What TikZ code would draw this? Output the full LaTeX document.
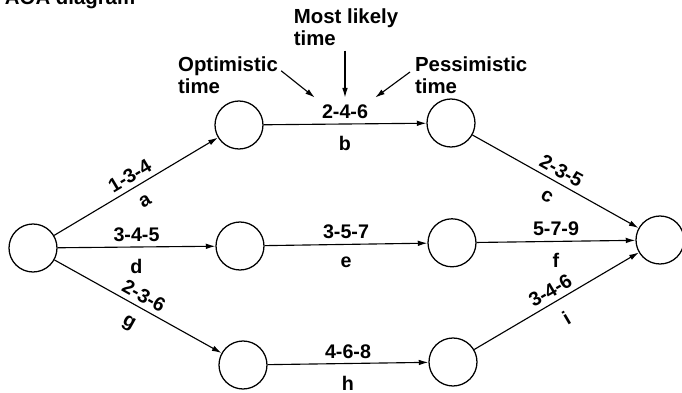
\documentclass[tikz,border=0pt]{standalone}
\usepackage{fontspec}
\setmainfont{Liberation Sans}
\usetikzlibrary{arrows.meta}

\tikzset{
    event/.style={circle, draw, line width=0.9pt, minimum size=1.2cm, inner sep=0pt},
    act/.style={line width=0.8pt, -{Latex[length=2.4mm, width=1.4mm]}},
    est/.style={font=\fontsize{14}{15}\selectfont\bfseries},
    note/.style={font=\fontsize{14.5}{16}\selectfont\bfseries, align=left}
}

\begin{document}
\begin{tikzpicture}
    \clip (0, 0) rectangle (17.05, 9.8);

    \node[note, anchor=base west] (title) at (0, 9.7) {AOA diagram};

    \node[event] (s) at (0.825, 3.6) {};
    \node[event] (t1) at (5.975, 6.675) {};
    \node[event] (t2) at (11.275, 6.725) {};
    \node[event] (m1) at (6.0, 3.65) {};
    \node[event] (m2) at (11.3, 3.73) {};
    \node[event] (b1) at (6.075, 0.675) {};
    \node[event] (b2) at (11.325, 0.75) {};
    \node[event] (e) at (16.5, 3.8) {};

    \draw[act] (s) -- node[est, sloped, above] {1-3-4} node[est, sloped, below=5pt] {a} (t1);
    \draw[act] (t1) -- node[est, above] (l246) {2-4-6} node[est, below=5pt] {b} (t2);
    \draw[act] (t2) -- node[est, sloped, above] {2-3-5} node[est, sloped, below=5pt] {c} (e);
    \draw[act] (s) -- node[est, above] {3-4-5} node[est, below=5pt] {d} (m1);
    \draw[act] (m1) -- node[est, above] {3-5-7} node[est, below=5pt] {e} (m2);
    \draw[act] (m2) -- node[est, above] {5-7-9} node[est, below=5pt] {f} (e);
    \draw[act] (s) -- node[est, sloped, above] {2-3-6} node[est, sloped, below=5pt] {g} (b1);
    \draw[act] (b1) -- node[est, above] {4-6-8} node[est, below=5pt] {h} (b2);
    \draw[act] (b2) -- node[est, sloped, above] {3-4-6} node[est, sloped, below=5pt] {i} (e);

    % three estimates
    \node[note] (opt) at (5.7, 7.925) {Optimistic\\time};
    \node[note] (most) at (8.65, 9.125) {Most likely\\time};
    \node[note] (pess) at (11.78, 7.925) {Pessimistic\\time};

    \coordinate (o1) at (7.03, 8.03);
    \coordinate (p1) at (10.25, 8.0);
    \draw[act] (o1) -- ([shift={(-0.05, 0.05)}]l246.north west);
    \draw[act] (most.south -| l246.north) -- ([yshift=0.05cm]l246.north);
    \draw[act] (p1) -- ([shift={(0.05, 0.05)}]l246.north east);
\end{tikzpicture}
\end{document}
